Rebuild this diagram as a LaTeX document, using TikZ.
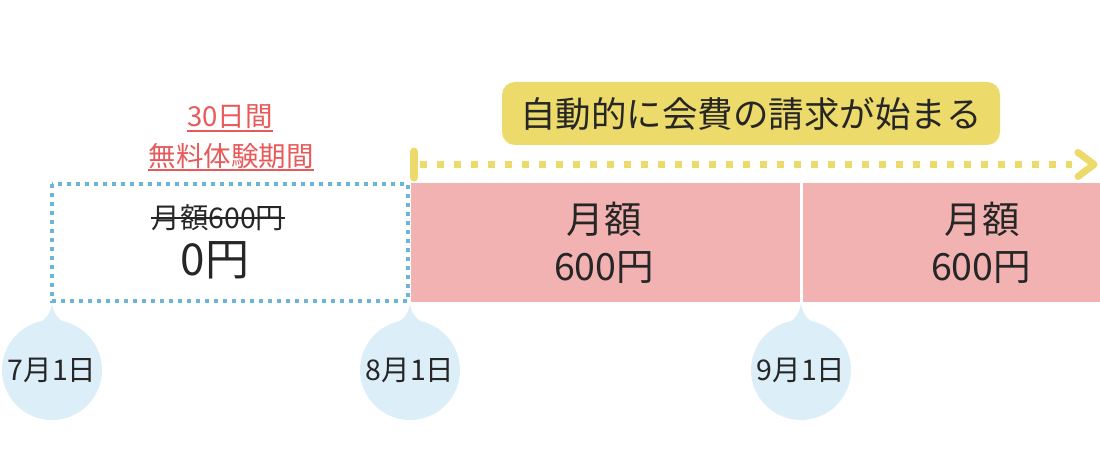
\documentclass[tikz,border=0pt]{standalone}
\usepackage{fontspec}
\setmainfont{Noto Sans CJK JP}
\definecolor{feepink}{HTML}{F2B2B2}
\definecolor{bubble}{HTML}{DCEEF8}
\definecolor{trialblue}{HTML}{69B6D9}
\definecolor{noticeyel}{HTML}{ECDA6B}
\definecolor{trialred}{HTML}{E85A5A}
\definecolor{txtdark}{HTML}{262626}
\newcommand{\fsz}[1]{\fontsize{#1}{#1}\selectfont}

\begin{document}
\begin{tikzpicture}[x=1pt,y=-1pt,
  txt/.style={text=txtdark, inner sep=0pt},
  redtxt/.style={text=trialred, inner sep=0pt, font=\fsz{27.5}},
  datebub/.style={circle, fill=bubble, minimum size=100pt, inner sep=0pt,
    text=txtdark, font=\fsz{28.5}}]
  \useasboundingbox (0,0) rectangle (1100,462);
  % periods
  \draw[trialblue, line width=4pt, dash pattern=on 4pt off 5pt] (52,184) rectangle (408,301);
  \fill[feepink] (411,183) rectangle (800,302);
  \fill[feepink] (803,183) rectangle (1100,302);
  % trial box
  \node[txt, font=\fsz{28.5}] (strike) at (218,218) {月額600円};
  \draw[txtdark, line width=2pt] (strike.west) -- (strike.east);
  \node[txt, font=\fsz{44}] (zero) at (215,260) {0円};
  % paid months
  \node[txt, font=\fsz{37.5}] (aug) at (604,219) {月額};
  \node[txt, font=\fsz{37.5}] (augfee) at (604,268) {600円};
  \node[txt, font=\fsz{37.5}] (sep) at (982,219) {月額};
  \node[txt, font=\fsz{37.5}] (sepfee) at (981,268) {600円};
  % free period label
  \node[redtxt] (days) at (230,117) {30日間};
  \draw[trialred, line width=2pt] ([yshift=-1.5pt]days.south west) -- ([yshift=-1.5pt]days.south east);
  \node[redtxt] (free) at (231,156) {無料体験期間};
  \draw[trialred, line width=2pt] ([yshift=-1.5pt]free.south west) -- ([yshift=-1.5pt]free.south east);
  % billing notice
  \node[fill=noticeyel, rounded corners=13pt, minimum width=498pt, minimum height=63pt,
    txt, font=\fsz{35.5}] (notice) at (751,113.5) {自動的に会費の請求が始まる};
  \coordinate (billfrom) at (414,164.5);
  \coordinate (billto) at (1094,164.5);
  \draw[noticeyel, line width=8pt, line cap=round] ([yshift=13pt]billfrom) -- ([yshift=-13pt]billfrom);
  \draw[noticeyel, line width=7pt, dash pattern=on 7pt off 10pt] ([xshift=6pt]billfrom) -- ([xshift=-22pt]billto);
  \draw[noticeyel, line width=7pt, line cap=round, line join=round]
    ([shift={(-16pt,12pt)}]billto) -- (billto) -- ([shift={(-16pt,-12pt)}]billto);
  % dates
  \foreach \nm/\xx/\lbl in {d7/52/7月1日, d8/410/8月1日, d9/801/9月1日}{
    \fill[bubble] (\xx-15,324) .. controls (\xx-5,319) and (\xx-1,312) .. (\xx,303)
      .. controls (\xx+1,312) and (\xx+5,319) .. (\xx+15,324) -- cycle;
    \node[datebub] (\nm) at (\xx,370) {\lbl};
  }
\end{tikzpicture}
\end{document}
